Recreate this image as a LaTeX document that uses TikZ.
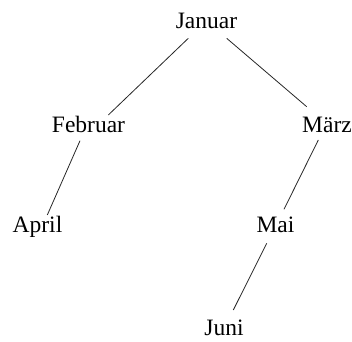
\documentclass[tikz,border=0pt]{standalone}
\usepackage{fontspec}
\setmainfont{Liberation Serif}
\begin{document}
\begin{tikzpicture}[x=1pt,y=1pt,
  month/.style={anchor=base,inner sep=0pt,font=\fontsize{23.5}{28}\selectfont},
  link/.style={draw=black!85,line width=0.8pt}]
\useasboundingbox (0,0) rectangle (352,-341);
% month nodes, placed by their baselines
\node[month] (jan) at (206.5,-28)  {Januar};
\node[month] (feb) at (88.5,-132)  {Februar};
\node[month] (mar) at (327,-132)   {März};
\node[month] (apr) at (37.5,-232)  {April};
\node[month] (mai) at (275.5,-232) {Mai};
\node[month] (jun) at (224,-335)   {Juni};
% tree edges
\draw[link] ([shift={(-18.2,-10.3)}]jan.base) -- ([shift={(19.8,17)}]feb.base);
\draw[link] ([shift={(20.2,-10.3)}]jan.base)  -- ([shift={(-20.3,25.3)}]mar.base);
\draw[link] ([shift={(-8.5,-8.7)}]feb.base)   -- ([shift={(9.8,17)}]apr.base);
\draw[link] ([shift={(-8.7,-8)}]mar.base)     -- ([shift={(8.5,22.7)}]mai.base);
\draw[link] ([shift={(-8.8,-11.3)}]mai.base)  -- ([shift={(9.3,25)}]jun.base);
\end{tikzpicture}
\end{document}
